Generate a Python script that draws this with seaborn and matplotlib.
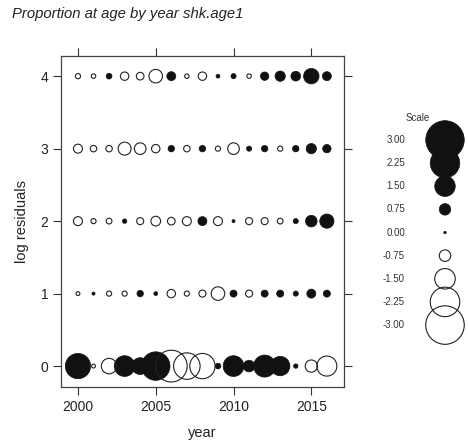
import numpy as np
import pandas as pd
import matplotlib
matplotlib.use("Agg")
import matplotlib.pyplot as plt
import seaborn as sns

# log residuals by age (rows) and year (columns)
years = list(range(2000, 2017))
age0 = [1.90, -0.11, -1.08, 1.52, 1.19, 2.17, -2.44, -2.00, -1.90, 0.27, 1.52, 0.76, 1.63, 1.41, 0.16, -0.81, -1.46]
age1 = [-0.11, 0.05, -0.22, -0.22, 0.33, 0.11, -0.49, -0.22, -0.38, -0.92, 0.38, -0.38, 0.38, 0.38, 0.22, 0.54, 0.38]
age2 = [-0.54, -0.22, -0.27, 0.16, -0.38, -0.60, -0.43, -0.54, 0.54, -0.54, 0.05, -0.38, -0.38, -0.27, 0.22, 0.76, 0.98]
age3 = [-0.54, -0.33, -0.33, -0.87, -0.76, -0.49, 0.33, -0.33, 0.33, -0.22, -0.76, 0.22, 0.33, -0.22, 0.33, 0.65, 0.49]
age4 = [-0.22, -0.16, 0.27, -0.49, -0.43, -0.92, 0.54, -0.16, -0.49, 0.11, 0.22, -0.16, 0.49, 0.65, 0.60, 1.08, 0.54]

scale_vals = [3.00, 2.25, 1.50, 0.75, 0.00, -0.75, -1.50, -2.25, -3.00]
scale_labels = ["3.00", "2.25", "1.50", "0.75", "0.00", "-0.75", "-1.50", "-2.25", "-3.00"]


def area(r):
    # bubble diameter grows with |residual|, returned as marker area (pt^2)
    d = (2.5 + 12.0 * np.abs(r)) * 0.72
    return d ** 2


rows = []
for age, vals in enumerate([age0, age1, age2, age3, age4]):
    for yr, v in zip(years, vals):
        rows.append(dict(year=yr, age=age, resid=v))
df = pd.DataFrame(rows)
df["area"] = area(df["resid"])

leg = pd.DataFrame(dict(val=scale_vals, label=scale_labels))
leg["x"] = 0.0
leg["area"] = area(leg["val"])

sns.set_theme(style="white")
plt.rcParams["font.family"] = ["Liberation Sans", "DejaVu Sans"]

fig = plt.figure(figsize=(4.68, 4.47), dpi=100)
ax = fig.add_axes([0.130, 0.134, 0.605, 0.741])

amax = area(3.5)
kw = dict(size="area", sizes=(0, amax), size_norm=(0, amax), legend=False)
sns.scatterplot(data=df[df.resid >= 0], x="year", y="age", color="#111111",
                edgecolor="#111111", linewidth=0.5, ax=ax, **kw)
sns.scatterplot(data=df[df.resid < 0], x="year", y="age", facecolor="none",
                edgecolor="#222222", linewidth=0.8, ax=ax, **kw)

ax.set_xlim(1998.9, 2017.1)
ax.set_ylim(-0.29, 4.28)
ax.set_xticks([2000, 2005, 2010, 2015])
ax.set_yticks([0, 1, 2, 3, 4])
ax.tick_params(direction="out", length=6, width=0.8, color="#333333", pad=3,
               bottom=True, left=True, top=True, right=True,
               labeltop=False, labelright=False, labelsize=10, labelcolor="#222222")
for s in ax.spines.values():
    s.set_color("#444444")
    s.set_linewidth(0.9)
ax.set_xlabel("year", fontsize=10.5, labelpad=9, color="#222222")
ax.set_ylabel("log residuals", fontsize=10.5, labelpad=8, color="#222222")

fig.text(0.026, 0.969, "Proportion at age by year shk.age1", style="italic",
         fontsize=10.7, va="center", ha="left", color="#222222")

# scale legend
lax = fig.add_axes([380 / 468, 1 - 355 / 447, 88 / 468, 245 / 447])
sns.scatterplot(data=leg[leg.val >= 0], x="x", y="val", color="#111111",
                edgecolor="#111111", linewidth=0.5, ax=lax, clip_on=False, **kw)
sns.scatterplot(data=leg[leg.val < 0], x="x", y="val", facecolor="none",
                edgecolor="#222222", linewidth=0.8, ax=lax, clip_on=False, **kw)
for v, lab in zip(scale_vals, scale_labels):
    lax.text(-40, v, lab, ha="right", va="center", fontsize=7, color="#333333")
lax.text(-27, 3.71, "Scale", ha="center", va="center", fontsize=7, color="#333333")
lax.set_xlim(-65, 23)
lax.set_ylim(-3.97, 3.97)
lax.axis("off")

fig.savefig("out.png", dpi=100)
